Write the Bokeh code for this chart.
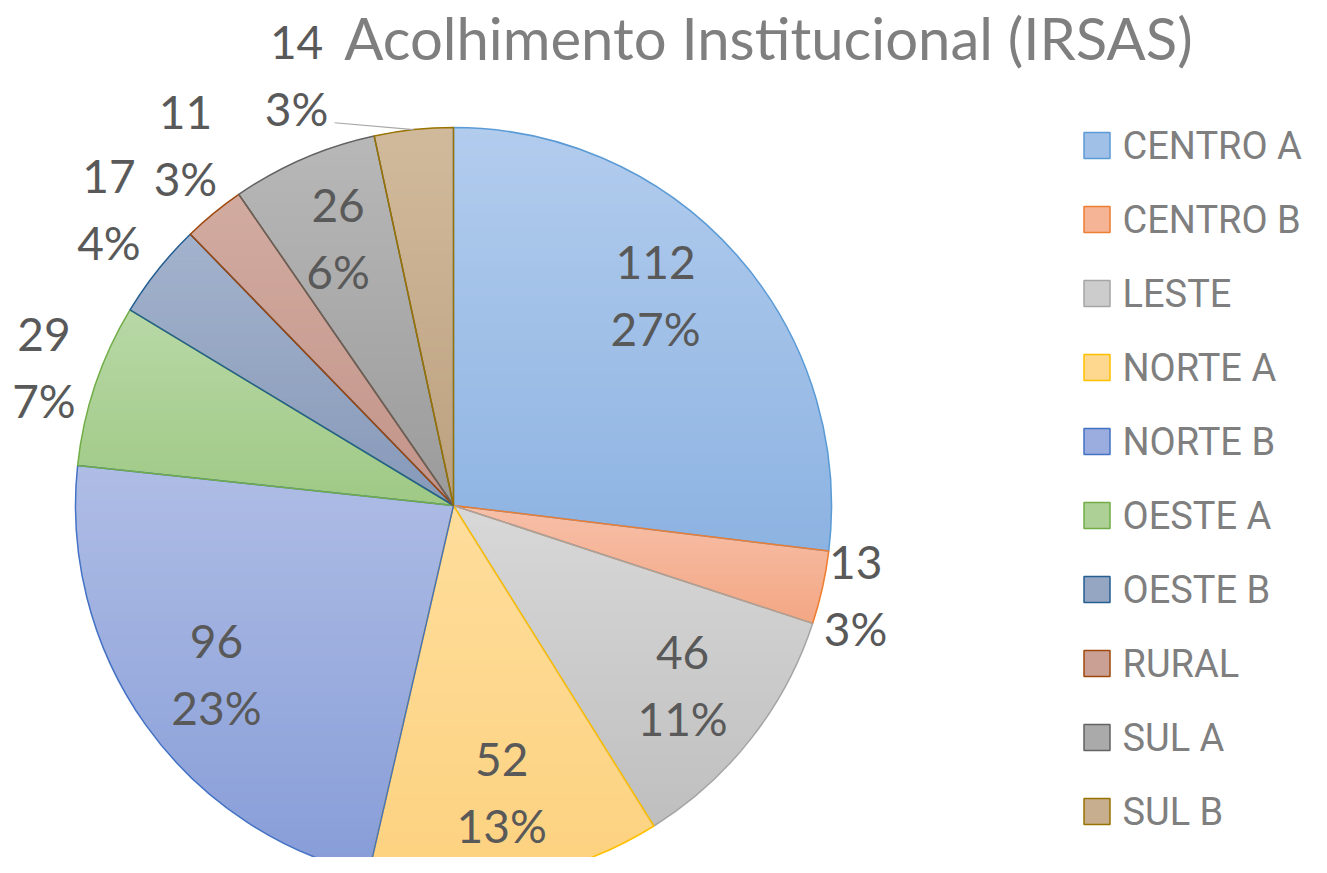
import numpy as np
from bokeh.plotting import figure
from bokeh.models import Range1d
from bokeh.core.properties import value
from bokeh.embed import file_html
from bokeh.resources import INLINE

# ---------------- data ----------------
title_text = "Acolhimento Institucional (IRSAS)"
categories = ["CENTRO A", "CENTRO B", "LESTE", "NORTE A", "NORTE B",
              "OESTE A", "OESTE B", "RURAL", "SUL A", "SUL B"]
counts = [112, 13, 46, 52, 96, 29, 17, 11, 26, 14]

# ---------------- style ----------------
line_colors = ["#5b9bd5", "#ed7d31", "#a5a5a5", "#ffc000", "#4472c4",
               "#70ad47", "#255e91", "#9e480e", "#636363", "#997300"]
top_colors = ["#b2cced", "#f7c0a9", "#d8d8d8", "#fedd9b", "#afbde5",
              "#b8d8a6", "#a3b3cd", "#d2aba0", "#b8b8b8", "#d1ba9c"]
bottom_colors = ["#8db3e2", "#f3a784", "#bfbfbf", "#fdd280", "#879dd8",
                 "#9fc985", "#8799b9", "#c3948a", "#9b9b9b", "#bca17f"]
outside_labels = {"CENTRO B", "OESTE A", "OESTE B", "RURAL", "SUL B"}
# (clockwise angle shift in deg, extra radius px) for label placement
label_nudge = {"CENTRO A": (-4.5, 0.0), "CENTRO B": (0.0, -16.0),
               "OESTE B": (2.2, 12.0), "RURAL": (2.7, 4.0),
               "SUL B": (-14.0, 14.0)}
leader_labels = {"SUL B"}

FONT = "Lato"
LEGEND_FONT = "Roboto"
LABEL_COLOR = "#595959"
LEGEND_COLOR = "#7f7f7f"
TITLE_COLOR = "#7f7f7f"
LABEL_FS = 46
LEGEND_FS = 38
TITLE_FS = 58

W, H = 1311, 857
# data coordinates: x = picture pixel, y = -picture pixel
p = figure(width=W, height=H,
           x_range=Range1d(0, W), y_range=Range1d(-H, 0),
           output_backend="svg", toolbar_location=None, min_border=0,
           x_axis_type=None, y_axis_type=None)
p.grid.visible = False
p.outline_line_color = None
p.background_fill_color = "white"
p.border_fill_color = "white"

cx, cy, R = 453.0, -505.0, 378.0
counts_a = np.array(counts, dtype=float)
total = counts_a.sum()
cum = np.concatenate([[0.0], np.cumsum(counts_a)])
start_ang = np.pi / 2 - 2 * np.pi * cum[:-1] / total
end_ang = np.pi / 2 - 2 * np.pi * cum[1:] / total
mid_ang = (start_ang + end_ang) / 2
pcts = [f"{int(np.floor(100 * c / total + 0.5))}%" for c in counts]


def hex2rgb(h):
    h = h.lstrip("#")
    return np.array([int(h[i:i + 2], 16) for i in (0, 2, 4)], dtype=float)


def rgb2hex(c):
    c = np.clip(np.round(c), 0, 255).astype(int)
    return "#%02x%02x%02x" % tuple(c)


def clip_poly(pts, yv, keep_below):
    out = []
    n = len(pts)
    for i in range(n):
        a = pts[i]
        b = pts[(i + 1) % n]
        ina = a[1] <= yv if keep_below else a[1] >= yv
        inb = b[1] <= yv if keep_below else b[1] >= yv
        if ina:
            out.append(a)
        if ina != inb:
            t = (yv - a[1]) / (b[1] - a[1])
            out.append((a[0] + t * (b[0] - a[0]), yv))
    return out


# gradient-filled slices built from horizontal bands
xs_all, ys_all, col_all = [], [], []
for i in range(len(counts)):
    span = abs(end_ang[i] - start_ang[i])
    n = max(6, int(np.degrees(span) * 2))
    th = np.linspace(start_ang[i], end_ang[i], n)
    poly = [(cx, cy)] + [(cx + R * np.cos(t), cy + R * np.sin(t)) for t in th]
    ys = [q[1] for q in poly]
    ymax, ymin = max(ys), min(ys)
    nb = 60
    h = (ymax - ymin) / nb
    c0, c1 = hex2rgb(top_colors[i]), hex2rgb(bottom_colors[i])
    for k in range(nb):
        yhi = ymax - k * h + 0.6
        ylo = ymax - (k + 1) * h - 0.6
        q = clip_poly(poly, yhi, True)
        if len(q) < 3:
            continue
        q = clip_poly(q, ylo, False)
        if len(q) < 3:
            continue
        t = (k + 0.5) / nb
        xs_all.append([a[0] for a in q])
        ys_all.append([a[1] for a in q])
        col_all.append(rgb2hex(c0 + (c1 - c0) * t))

p.patches(xs_all, ys_all, fill_color=col_all, line_color=None)

# slice outlines
p.wedge(x=[cx] * len(counts), y=[cy] * len(counts), radius=R,
        start_angle=list(start_ang), end_angle=list(end_ang), direction="clock",
        fill_color=None, line_color=line_colors, line_width=1.5)

# data labels
vx, vy, vt, px_, py_, pt = [], [], [], [], [], []
LINE_GAP = 33
lead_x, lead_y = [], []
for i, cat in enumerate(categories):
    a = mid_ang[i]
    dang, extra = label_nudge.get(cat, (0.0, 0.0))
    a2 = a - np.radians(dang)
    dx, dy = np.cos(a2), np.sin(a2)
    if cat in outside_labels:
        w = 64.0
        hh = 99.0
        ext = w / 2 * abs(dx) + hh / 2 * abs(dy)
        r = R + ext + 8 + extra
        lx, ly = cx + r * dx, cy + r * dy
        if cat in leader_labels:
            lead_x.append([lx + w / 2 + 6, cx + R * np.cos(a)])
            lead_y.append([ly - LINE_GAP - 14, cy + R * np.sin(a)])
    else:
        r = 0.77 * R + extra
        lx, ly = cx + r * dx, cy + r * dy
    vx.append(lx); vy.append(ly + LINE_GAP); vt.append(str(counts[i]))
    px_.append(lx); py_.append(ly - LINE_GAP); pt.append(pcts[i])

if lead_x:
    p.multi_line(lead_x, lead_y, line_color="#a6a6a6", line_width=1.2)

p.text(x=vx + px_, y=vy + py_, text=vt + pt, text_font=value(FONT),
       text_font_size=f"{LABEL_FS}px", text_color=LABEL_COLOR,
       text_align="center", text_baseline="middle")

# legend (drawn manually)
leg_x0 = 1096.5
leg_y0 = -145.0
leg_dy = 74.0
leg_ys = [leg_y0 - leg_dy * i for i in range(len(categories))]
mid_cols = [rgb2hex((hex2rgb(a) + hex2rgb(b)) / 2) for a, b in zip(top_colors, bottom_colors)]
p.rect(x=[leg_x0] * len(categories), y=leg_ys, width=26, height=26,
       fill_color=mid_cols, line_color=line_colors, line_width=1.5)
p.text(x=[leg_x0 + 25.5] * len(categories), y=leg_ys, text=categories,
       text_font=value(LEGEND_FONT), text_font_size=f"{LEGEND_FS}px",
       text_color=LEGEND_COLOR, text_align="left", text_baseline="middle")

# title
p.text(x=[768], y=[-2], text=[title_text], text_font=value(FONT),
       text_font_size=f"{TITLE_FS}px", text_color=TITLE_COLOR,
       text_align="center", text_baseline="top")

open("out.html", "w").write(file_html(p, INLINE))
